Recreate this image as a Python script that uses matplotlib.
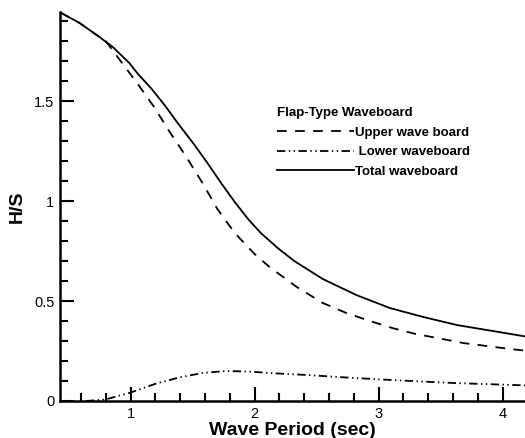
"""
Flap-type waveboard: H/S against wave period.
"""
import matplotlib
matplotlib.use('Agg')
import matplotlib.pyplot as plt
from matplotlib.ticker import MultipleLocator

plt.rcParams['font.family'] = ['Liberation Sans', 'DejaVu Sans']
plt.rcParams['lines.scale_dashes'] = False

# values
total_T = [0.43, 0.59, 0.75, 0.857, 0.99, 1.06, 1.167, 1.274, 1.38, 1.516, 1.62,
           1.73, 1.84, 1.95, 2.05, 2.19, 2.32, 2.55, 2.82, 3.09, 3.36, 3.63,
           3.90, 4.18]
total_H = [1.944, 1.89, 1.82, 1.77, 1.69, 1.635, 1.563, 1.48, 1.39, 1.28, 1.19,
           1.09, 0.995, 0.908, 0.84, 0.763, 0.70, 0.61, 0.53, 0.465, 0.42, 0.38,
           0.352, 0.323]

upper_T = [0.43, 0.59, 0.75, 0.80, 0.95, 1.07, 1.19, 1.30, 1.45, 1.58, 1.70,
           1.84, 2.0, 2.12, 2.23, 2.34, 2.55, 2.74, 2.93, 3.12, 3.30, 3.49,
           3.68, 3.87, 4.06, 4.18]
upper_H = [1.944, 1.89, 1.82, 1.80, 1.675, 1.575, 1.47, 1.36, 1.22, 1.09, 0.96,
           0.84, 0.735, 0.67, 0.62, 0.57, 0.49, 0.44, 0.40, 0.363, 0.335, 0.313,
           0.29, 0.275, 0.26, 0.252]

lower_T = [0.64, 0.80, 0.99, 1.21, 1.395, 1.58, 1.77, 1.96, 2.17, 2.42, 2.75,
           3.1, 3.6, 4.18]
lower_H = [0.0, 0.008, 0.04, 0.088, 0.118, 0.14, 0.15, 0.147, 0.138, 0.13, 0.117,
           0.105, 0.09, 0.078]

fig = plt.figure(figsize=(5.25, 4.38), dpi=100)
ax = fig.add_axes([0.114, 0.0845, 0.886, 0.888])

ax.plot(upper_T, upper_H, color='black', lw=1.3, ls=(0, (7, 6)),
        label='Upper wave board')
ax.plot(lower_T, lower_H, color='black', lw=1.3, ls=(0, (6, 2.5, 1, 2.5, 1, 2.5)),
        label=' Lower waveboard')
ax.plot(total_T, total_H, color='black', lw=1.3, label='Total waveboard')

ax.set_xlim(0.43, 4.18)
ax.set_ylim(0, 1.945)
ax.xaxis.set_major_locator(MultipleLocator(1))
ax.xaxis.set_minor_locator(MultipleLocator(0.2))
ax.yaxis.set_minor_locator(MultipleLocator(0.1))
ax.set_yticks([0, 0.5, 1, 1.5])
ax.set_yticklabels(['0', '0.5', '1', '1.5'])

ax.tick_params(which='both', direction='in', width=1.5, labelsize=10.5, pad=4,
               top=False, right=False)
ax.tick_params(which='major', length=10)
ax.tick_params(which='minor', length=6)

for side in ['top', 'right']:
    ax.spines[side].set_visible(False)
for side in ['left', 'bottom']:
    ax.spines[side].set_linewidth(1.8)

ax.set_xlabel('Wave Period (sec)', fontsize=14, fontweight='bold', labelpad=1)
ax.set_ylabel('H/S', fontsize=14, fontweight='bold', labelpad=6)

leg = ax.legend(loc='upper left', bbox_to_anchor=(0.467, 0.755), frameon=False,
                title='Flap-Type Waveboard', alignment='left',
                title_fontproperties={'weight': 'bold', 'size': 9.5},
                prop={'weight': 'bold', 'size': 9.5},
                handlelength=5.8, handletextpad=0.1, borderpad=0,
                borderaxespad=0, labelspacing=0.55)

fig.savefig('out.png', dpi=100)
